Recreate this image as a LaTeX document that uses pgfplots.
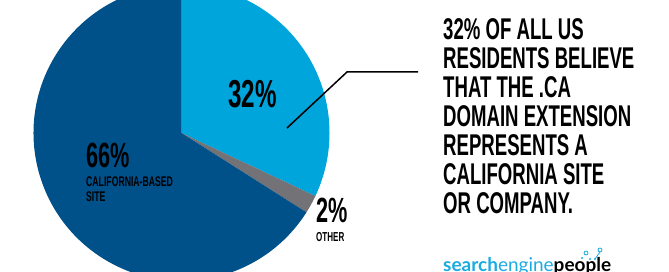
\documentclass[border=0pt]{standalone}
\usepackage{pgfplots}
\pgfplotsset{compat=1.18}
\usepackage{fontspec}
\setmainfont{Liberation Sans}
\newfontfamily\cond[FakeStretch=0.62]{Liberation Sans}
\newfontfamily\logo{Lato}
\definecolor{lblue}{HTML}{00A5DB}
\definecolor{dblue}{HTML}{00508A}
\definecolor{pgray}{HTML}{727277}
\definecolor{logoblue}{HTML}{1AABE0}
% pie shares in percent
\pgfplotstableread{
share
32
2
66
}\pietable
\pgfplotstablegetelem{0}{share}\of\pietable \let\sA\pgfplotsretval
\pgfplotstablegetelem{1}{share}\of\pietable \let\sB\pgfplotsretval
\pgfplotstablegetelem{2}{share}\of\pietable \let\sC\pgfplotsretval
\pgfmathsetmacro{\aA}{90-3.6*\sA}
\pgfmathsetmacro{\aB}{\aA-3.6*\sB}
\pgfmathsetmacro{\aC}{\aB-3.6*\sC}
\tikzset{callout/.style={anchor=base west,inner sep=0,font=\cond\bfseries\fontsize{30}{29}\selectfont}}
\begin{document}
\begin{tikzpicture}
\begin{axis}[x=1pt,y=1pt,
  xmin=0,xmax=669,ymin=0,ymax=272,hide axis,clip=true,clip mode=global]
\fill[lblue] (axis cs:181.5,139) -- ++(90:148pt) arc[start angle=90,end angle=\aA,radius=148pt] -- cycle;
\fill[pgray] (axis cs:181.5,139) -- ++(\aA:148pt) arc[start angle=\aA,end angle=\aB,radius=148pt] -- cycle;
\fill[dblue] (axis cs:181.5,139) -- ++(\aB:148pt) arc[start angle=\aB,end angle=\aC,radius=148pt] -- cycle;
% slice labels
\node[anchor=base west,inner sep=0,font=\cond\bfseries\fontsize{39}{39}\selectfont] at (axis cs:228,164) {32\%};
\node[anchor=base west,inner sep=0,font=\cond\bfseries\fontsize{35}{35}\selectfont] at (axis cs:86,104) {66\%};
\node[anchor=base west,inner sep=0,font=\cond\bfseries\fontsize{14}{14}\selectfont] at (axis cs:86,85) {CALIFORNIA-BASED};
\node[anchor=base west,inner sep=0,font=\cond\bfseries\fontsize{14}{14}\selectfont] at (axis cs:86,70) {SITE};
\node[anchor=base west,inner sep=0,font=\cond\bfseries\fontsize{35}{35}\selectfont] at (axis cs:316,49) {2\%};
\node[anchor=base west,inner sep=0,font=\cond\bfseries\fontsize{13}{13}\selectfont] at (axis cs:316,30) {OTHER};
% leader line
\draw[black,line width=1.5pt] (axis cs:287,144) -- (axis cs:347,200) -- (axis cs:418,200);
% callout text
\node[callout] at (axis cs:443,232) {32\% OF ALL US};
\node[callout] at (axis cs:443,203) {RESIDENTS BELIEVE};
\node[callout] at (axis cs:443,174) {THAT THE .CA};
\node[callout] at (axis cs:443,145) {DOMAIN EXTENSION};
\node[callout] at (axis cs:443,116) {REPRESENTS A};
\node[callout] at (axis cs:443,87) {CALIFORNIA SITE};
\node[callout] at (axis cs:443,58) {OR COMPANY.};
% logo
\node[anchor=base west,inner sep=0,font=\logo\fontsize{19}{19}\selectfont] at (axis cs:443,0)
  {\textcolor{logoblue}{\bfseries search}\textcolor{logoblue}{engine}\textcolor{black}{\bfseries people}};
\draw[logoblue,line width=0.8pt] (axis cs:586,19) circle[radius=2pt];
\draw[logoblue,line width=0.8pt] (axis cs:600,22) circle[radius=2pt];
\draw[logoblue,line width=0.8pt] (axis cs:600,20) -- (axis cs:595,13);
\fill[logoblue] (axis cs:582,14) circle[radius=1.2pt];
\fill[logoblue] (axis cs:590,13) circle[radius=1.2pt];
\fill[logoblue] (axis cs:595,13) circle[radius=1.2pt];
\end{axis}
\pgfresetboundingbox
\path[use as bounding box] (current axis.south west) rectangle (current axis.north east);
\end{tikzpicture}
\end{document}
